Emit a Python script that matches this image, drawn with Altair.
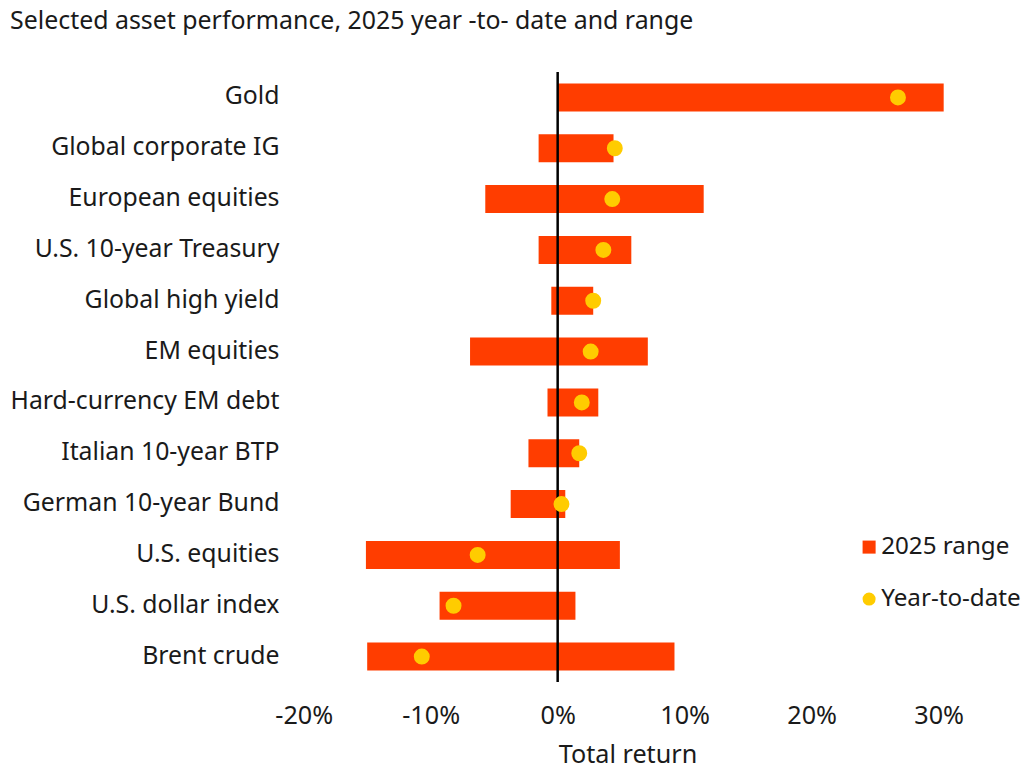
import altair as alt
import pandas as pd

assets = ["Gold", "Global corporate IG", "European equities", "U.S. 10-year Treasury",
          "Global high yield", "EM equities", "Hard-currency EM debt", "Italian 10-year BTP",
          "German 10-year Bund", "U.S. equities", "U.S. dollar index", "Brent crude"]
range_low = [0.0, -1.5, -5.7, -1.5, -0.5, -6.9, -0.8, -2.3, -3.7, -15.1, -9.3, -15.0]
range_high = [30.4, 4.4, 11.5, 5.8, 2.8, 7.1, 3.2, 1.7, 0.6, 4.9, 1.4, 9.2]
ytd = [26.8, 4.5, 4.3, 3.6, 2.8, 2.6, 1.9, 1.7, 0.3, -6.3, -8.2, -10.7]
series_names = ["2025 range", "Year-to-date"]
series_colors = ["#FF3D00", "#FFCC00"]
x_ticks = [-20, -10, 0, 10, 20, 30]

df = pd.DataFrame({"asset": assets, "low": range_low, "high": range_high, "ytd": ytd})

FONT = "Noto Sans"
FS = 25.2
FSY = 24.8
FSL = 24.2
TXT = "#1a1a1a"
W, H = 673, 610

xscale = alt.Scale(domain=[-21, 32], nice=False, zero=False)
yenc = alt.Y("asset:N", sort=assets, title=None,
             scale=alt.Scale(paddingInner=0.45, paddingOuter=0.225),
             axis=alt.Axis(domain=False, ticks=False, labelFontSize=FSY, labelFont=FONT,
                           labelColor=TXT, labelPadding=12, labelLimit=400))
cscale = alt.Scale(domain=series_names, range=series_colors)
sscale = alt.Scale(domain=series_names, range=["square", "circle"])
legend = alt.Legend(title=None, orient="none", legendX=566, legendY=463,
                    labelFontSize=FSL, labelFont=FONT, labelColor=TXT,
                    symbolSize=170, rowPadding=27, symbolOpacity=1,
                    symbolStrokeWidth=0, labelOffset=0)

base = alt.Chart(df)

bars = base.transform_calculate(series="'2025 range'").mark_bar(size=28).encode(
    x=alt.X("low:Q", scale=xscale, title="Total return",
            axis=alt.Axis(values=x_ticks, labelExpr="datum.value + '%'", domain=False, ticks=False,
                          grid=False, labelFontSize=FS, labelFont=FONT, labelColor=TXT,
                          labelPadding=21, titleFontSize=FS, titleFont=FONT, titleFontWeight="normal",
                          titleColor=TXT, titlePadding=14)),
    x2="high:Q",
    y=yenc,
    color=alt.Color("series:N", scale=cscale, legend=legend),
    shape=alt.Shape("series:N", scale=sscale, legend=legend),
)

zero = alt.Chart(pd.DataFrame({"z": [0]})).mark_rule(color="black", strokeWidth=2.5).encode(
    x=alt.X("z:Q", scale=xscale),
    y=alt.value(0),
    y2=alt.value(H),
)

points = base.transform_calculate(series="'Year-to-date'").mark_point(
    filled=True, size=254, opacity=1).encode(
    x=alt.X("ytd:Q", scale=xscale),
    y=yenc,
    color=alt.Color("series:N", scale=cscale, legend=legend),
    shape=alt.Shape("series:N", scale=sscale, legend=legend),
)

chart = alt.layer(bars, zero, points).properties(
    width=W, height=H,
    autosize=alt.AutoSizeParams(type="none"),
    title=alt.Title("Selected asset performance, 2025 year -to- date and range",
                    anchor="start", frame="bounds", fontSize=24.9, font=FONT,
                    fontWeight="normal", color=TXT, offset=37),
    padding={"left": 283, "top": 64, "right": 58, "bottom": 88},
).configure_view(stroke=None).configure_axis(grid=False)

chart.save("out.html", embed_options={"renderer": "svg", "actions": False})
